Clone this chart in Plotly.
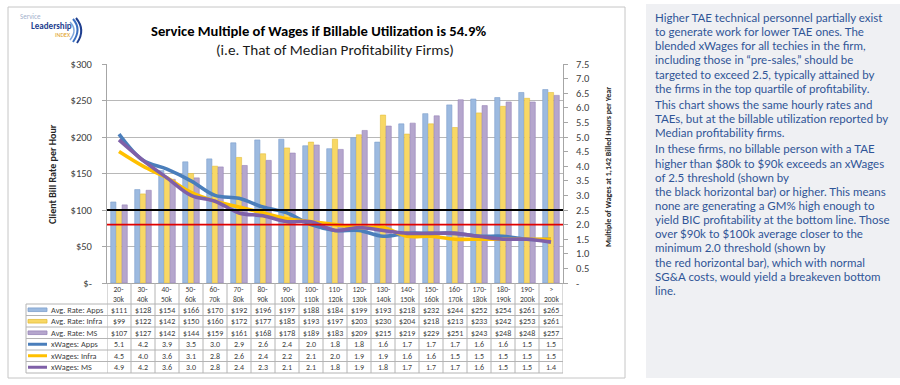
import plotly.graph_objects as go

W, H = 900, 385


def px(x):
    return x / W


def py(y):
    return 1 - y / H


# ---------------- data ----------------
categories = ["20-30k", "30-40k", "40-50k", "50-60k", "60-70k", "70-80k", "80-90k",
              "90-100k", "100-110k", "110-120k", "120-130k", "130-140k", "140-150k",
              "150-160k", "160-170k", "170-180k", "180-190k", "190-200k", "> 200k"]
header_labels = ["20-<br>30k", "30-<br>40k", "40-<br>50k", "50-<br>60k", "60-<br>70k",
                 "70-<br>80k", "80-<br>90k", "90-<br>100k", "100-<br>110k", "110-<br>120k",
                 "120-<br>130k", "130-<br>140k", "140-<br>150k", "150-<br>160k",
                 "160-<br>170k", "170-<br>180k", "180-<br>190k", "190-<br>200k", "><br>200k"]

rate_apps = [111, 128, 154, 166, 170, 192, 196, 197, 188, 184, 199, 193, 218, 232, 244, 252, 254, 261, 265]
rate_infra = [99, 122, 142, 150, 160, 172, 177, 185, 193, 197, 203, 230, 204, 218, 213, 233, 242, 253, 261]
rate_ms = [107, 127, 142, 144, 159, 161, 168, 178, 189, 183, 209, 215, 219, 229, 251, 243, 248, 248, 257]

xw_apps = [5.1, 4.2, 3.9, 3.5, 3.0, 2.9, 2.6, 2.4, 2.0, 1.8, 1.8, 1.6, 1.7, 1.7, 1.7, 1.6, 1.6, 1.5, 1.5]
xw_infra = [4.5, 4.0, 3.6, 3.1, 2.8, 2.6, 2.4, 2.2, 2.1, 2.0, 1.9, 1.9, 1.6, 1.6, 1.5, 1.5, 1.5, 1.5, 1.5]
xw_ms = [4.9, 4.2, 3.6, 3.0, 2.8, 2.4, 2.3, 2.1, 2.1, 1.8, 1.9, 1.8, 1.7, 1.7, 1.7, 1.6, 1.5, 1.5, 1.4]

threshold_black = 2.5
threshold_red = 2.0

left_tickvals = [0, 50, 100, 150, 200, 250, 300]
left_ticktext = ["$-", "$50", "$100", "$150", "$200", "$250", "$300"]
right_tickvals = [0, 0.5, 1.0, 1.5, 2.0, 2.5, 3.0, 3.5, 4.0, 4.5, 5.0, 5.5, 6.0, 6.5, 7.0, 7.5]
right_ticktext = ["-"] + [f"{v:.1f}" for v in right_tickvals[1:]]

bar_series = [
    ("Avg. Rate: Apps", rate_apps, "#9cbae0", "#7d9fcc"),
    ("Avg. Rate: Infra", rate_infra, "#f8d865", "#e2bd3c"),
    ("Avg. Rate: MS", rate_ms, "#b5a6cd", "#9885b8"),
]
line_series = [
    ("xWages: Apps", xw_apps, "#4a7ebb"),
    ("xWages: Infra", xw_infra, "#ffc000"),
    ("xWages: MS", xw_ms, "#7f60a8"),
]

textbox_lines = [
    ["Higher TAE technical personnel partially exist",
     "to generate work for lower TAE ones. The",
     "blended xWages for all techies in the firm,",
     "including those in \u201cpre-sales,\u201d should be",
     "targeted to exceed 2.5, typically attained by",
     "the firms in the top quartile of profitability."],
    ["This chart shows the same hourly rates and",
     "TAEs, but at the billable utilization reported by",
     "Median profitability firms."],
    ["In these firms, no billable person with a TAE",
     "higher than $80k to $90k exceeds an xWages",
     "of 2.5 threshold (shown by",
     "the black horizontal bar) or higher. This means",
     "none are generating a GM% high enough to",
     "yield BIC profitability at the bottom line. Those",
     "over $90k to $100k average closer to the",
     "minimum 2.0 threshold (shown by",
     "the red horizontal bar), which with normal",
     "SG&A costs, would yield a breakeven bottom",
     "line."],
]

FONT = "Carlito, Lato, 'Liberation Sans', sans-serif"
TXT = "#404040"
GRID = "#b8b8b8"

# plot area in pixels
PL, PR, PT, PB = 107, 563, 64, 283

fig = go.Figure()
for name, vals, col, edge in bar_series:
    fig.add_trace(go.Bar(x=categories, y=vals, name=name, yaxis="y",
                         marker=dict(color=col, line=dict(color=edge, width=0.6))))
for name, vals, col in line_series:
    fig.add_trace(go.Scatter(x=categories, y=vals, name=name, yaxis="y2", mode="lines",
                             line=dict(color=col, width=3.6, shape="spline", smoothing=1.0)))

shapes = []
annotations = []

# chart frame and text box background
shapes.append(dict(type="rect", xref="paper", yref="paper", x0=px(8), x1=px(625), y0=py(7), y1=py(378),
                   line=dict(color="#c6c6c6", width=1), fillcolor="white", layer="below"))
shapes.append(dict(type="rect", xref="paper", yref="paper", x0=px(646), x1=px(900), y0=py(4), y1=py(378),
                   line=dict(width=0), fillcolor="#eff0f3", layer="below"))

# threshold lines
shapes.append(dict(type="line", xref="x domain", yref="y2", x0=0, x1=1, y0=threshold_black, y1=threshold_black,
                   line=dict(color="#000000", width=2)))
shapes.append(dict(type="line", xref="x domain", yref="y2", x0=0, x1=1, y0=threshold_red, y1=threshold_red,
                   line=dict(color="#e00000", width=1.6)))

# ---------------- data table ----------------
TBL_L = 26
HDR_TOP, HDR_BOT = PB, 304
ROW_H = 11.5
n_rows = len(bar_series) + len(line_series)
TBL_BOT = HDR_BOT + ROW_H * n_rows
TCOL = "#b4b4b4"

for i in range(len(categories) + 1):
    shapes.append(dict(type="line", xref="x", yref="paper", x0=i - 0.5, x1=i - 0.5,
                       y0=py(HDR_TOP), y1=py(TBL_BOT), line=dict(color=TCOL, width=1)))
shapes.append(dict(type="line", xref="paper", yref="paper", x0=px(TBL_L), x1=px(TBL_L),
                   y0=py(HDR_BOT), y1=py(TBL_BOT), line=dict(color=TCOL, width=1)))
for k in range(n_rows + 1):
    yy = HDR_BOT + ROW_H * k
    shapes.append(dict(type="line", xref="paper", yref="paper", x0=px(TBL_L), x1=px(PR),
                       y0=py(yy), y1=py(yy), line=dict(color=TCOL, width=1)))

for c, lab in zip(categories, header_labels):
    annotations.append(dict(x=c, y=py((HDR_TOP + HDR_BOT) / 2 + 0.5), xref="x", yref="paper", text=lab,
                            showarrow=False, font=dict(size=7.5, color=TXT, family=FONT),
                            xanchor="center", yanchor="middle"))

rows = []
for name, vals, col, edge in bar_series:
    rows.append((name, [f"${v}" for v in vals], ("bar", col, edge)))
for name, vals, col in line_series:
    rows.append((name, [f"{v:.1f}" for v in vals], ("line", col, None)))

for r, (name, cells, key) in enumerate(rows):
    yc = HDR_BOT + ROW_H * (r + 0.5)
    if key[0] == "bar":
        shapes.append(dict(type="rect", xref="paper", yref="paper", x0=px(28), x1=px(47),
                           y0=py(yc - 1.8), y1=py(yc + 1.8), fillcolor=key[1],
                           line=dict(color=key[2], width=0.8)))
    else:
        shapes.append(dict(type="line", xref="paper", yref="paper", x0=px(28), x1=px(47),
                           y0=py(yc), y1=py(yc), line=dict(color=key[1], width=3)))
    annotations.append(dict(x=px(49), y=py(yc), xref="paper", yref="paper", text=name, showarrow=False,
                            font=dict(size=8.3, color=TXT, family=FONT), xanchor="left", yanchor="middle"))
    for c, t in zip(categories, cells):
        annotations.append(dict(x=c, y=py(yc), xref="x", yref="paper", text=t, showarrow=False,
                                font=dict(size=8, color=TXT, family=FONT), xanchor="center",
                                yanchor="middle"))

# ---------------- titles ----------------
annotations.append(dict(x=px(318), y=py(31.5), xref="paper", yref="paper",
                        text="<b>Service Multiple of Wages if Billable Utilization is 54.9%</b>",
                        showarrow=False, font=dict(size=14.6, color="#000000", family=FONT),
                        xanchor="center", yanchor="middle", borderpad=0))
annotations.append(dict(x=px(335), y=py(50), xref="paper", yref="paper",
                        text="(i.e. That of Median Profitability Firms)",
                        showarrow=False, font=dict(size=15.2, color="#1a1a1a", family=FONT),
                        xanchor="center", yanchor="middle", borderpad=0))
annotations.append(dict(x=px(53), y=py(174), xref="paper", yref="paper",
                        text="<b>Client Bill Rate per Hour</b>", textangle=-90,
                        showarrow=False, font=dict(size=10, color="#262626", family=FONT),
                        xanchor="center", yanchor="middle"))
annotations.append(dict(x=px(608), y=py(167), xref="paper", yref="paper",
                        text="<b>Multiple of Wages at 1,142 Billed Hours per Year</b>", textangle=-90,
                        showarrow=False, font=dict(size=8, color="#262626", family=FONT),
                        xanchor="center", yanchor="middle"))

# ---------------- logo ----------------
annotations.append(dict(x=px(18), y=py(16.5), xref="paper", yref="paper", text="Service",
                        showarrow=False, font=dict(size=7, color="#9fb0cc", family=FONT),
                        xanchor="left", yanchor="middle"))
annotations.append(dict(x=px(29), y=py(25.5), xref="paper", yref="paper", text="<b>Leadership</b>",
                        showarrow=False, font=dict(size=9, color="#1f3f8f", family=FONT),
                        xanchor="left", yanchor="middle"))
annotations.append(dict(x=px(53), y=py(35), xref="paper", yref="paper", text="INDEX",
                        showarrow=False, font=dict(size=6, color="#e0a020", family=FONT),
                        xanchor="left", yanchor="middle"))
for (x0, y0, cx, cy, x1, y1, col, w) in [
    (70, 22, 78, 30, 70, 40, "#7fa7dc", 1.5),
    (73, 19, 82, 29, 73, 42, "#3a6fc0", 2),
    (76, 18, 86, 30, 77, 43, "#1f3f8f", 2),
]:
    shapes.append(dict(type="path", xref="paper", yref="paper",
                       path=f"M {px(x0)},{py(y0)} Q {px(cx)},{py(cy)} {px(x1)},{py(y1)}",
                       line=dict(color=col, width=w)))

# ---------------- side text ----------------
y = 17.5
LINE = 14.15
for p, para in enumerate(textbox_lines):
    for line in para:
        annotations.append(dict(x=px(653), y=py(y), xref="paper", yref="paper", text=line,
                                showarrow=False, font=dict(size=11.5, color="#2f5597", family="Lato"),
                                xanchor="left", yanchor="middle"))
        y += LINE
    y += 2.0

fig.update_layout(
    width=W, height=H,
    margin=dict(l=0, r=0, t=0, b=0),
    paper_bgcolor="white", plot_bgcolor="rgba(0,0,0,0)",
    showlegend=False,
    barmode="group", bargap=0.29, bargroupgap=0.08,
    font=dict(family=FONT, color=TXT),
    xaxis=dict(domain=[px(PL), px(PR)], type="category", showticklabels=False, showgrid=False,
               showline=True, linecolor="#a6a6a6", linewidth=1, ticks="", automargin=False,
               range=[-0.5, len(categories) - 0.5]),
    yaxis=dict(domain=[py(PB), py(PT)], range=[0, 300], tickvals=left_tickvals, ticktext=left_ticktext,
               showgrid=True, gridcolor=GRID, gridwidth=1, zeroline=False,
               showline=True, linecolor="#a6a6a6", linewidth=1, ticks="outside", ticklen=4,
               tickcolor="#a6a6a6", ticklabelstandoff=8, tickfont=dict(size=10.5, color=TXT, family=FONT),
               automargin=False),
    yaxis2=dict(overlaying="y", side="right", anchor="x", range=[0, 7.5], tickvals=right_tickvals,
                ticktext=right_ticktext, showgrid=False, zeroline=False,
                showline=True, linecolor="#a6a6a6", linewidth=1, ticks="outside", ticklen=4,
                tickcolor="#a6a6a6", ticklabelstandoff=6, tickfont=dict(size=10.5, color=TXT, family=FONT),
                automargin=False),
    shapes=shapes,
    annotations=annotations,
)

fig.write_html("out.html", config={"displayModeBar": False},
               post_script="document.body.style.margin='0px';document.body.style.overflow='hidden';")
